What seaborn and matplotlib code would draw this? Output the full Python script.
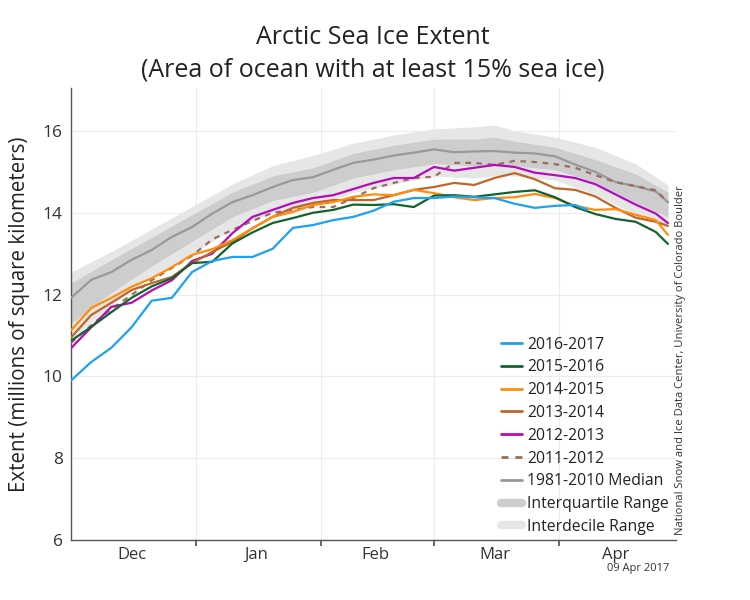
import numpy as np
import pandas as pd
import matplotlib
matplotlib.use("Agg")
import matplotlib.pyplot as plt
from matplotlib.lines import Line2D
import seaborn as sns

# days since 1 Dec
days = [0, 5, 10, 15, 20, 25, 30, 35, 40, 45, 50, 55, 60, 65, 70, 75, 80, 85, 90,
        95, 100, 105, 110, 115, 120, 125, 130, 135, 140, 145, 148]
days_1617 = days[:26] + [128]

ext_1617 = [9.9, 10.35, 10.7, 11.2, 11.85, 11.92, 12.55, 12.82, 12.92, 12.92, 13.12,
            13.63, 13.7, 13.82, 13.9, 14.05, 14.27, 14.36, 14.36, 14.4, 14.38, 14.36,
            14.22, 14.12, 14.17, 14.19, 14.07]
ext_1516 = [10.87, 11.21, 11.57, 11.92, 12.2, 12.4, 12.77, 12.8, 13.25, 13.52, 13.75,
            13.87, 14.0, 14.07, 14.2, 14.19, 14.21, 14.14, 14.42, 14.43, 14.39, 14.45,
            14.51, 14.55, 14.38, 14.14, 13.97, 13.85, 13.78, 13.53, 13.24]
ext_1415 = [11.13, 11.67, 11.92, 12.19, 12.4, 12.67, 12.97, 13.11, 13.33, 13.62, 13.9,
            14.02, 14.19, 14.26, 14.39, 14.45, 14.43, 14.56, 14.48, 14.38, 14.31, 14.36,
            14.38, 14.46, 14.36, 14.17, 14.07, 14.09, 13.95, 13.82, 13.46]
ext_1314 = [10.95, 11.5, 11.8, 12.11, 12.28, 12.43, 12.77, 13.04, 13.29, 13.62, 13.9,
            14.12, 14.24, 14.31, 14.31, 14.31, 14.43, 14.56, 14.63, 14.73, 14.68, 14.85,
            14.97, 14.82, 14.6, 14.56, 14.4, 14.12, 13.88, 13.78, 13.68]
ext_1213 = [10.69, 11.2, 11.7, 11.8, 12.1, 12.35, 12.82, 13.0, 13.5, 13.9, 14.07,
            14.24, 14.36, 14.43, 14.58, 14.73, 14.85, 14.85, 15.12, 15.03, 15.1, 15.17,
            15.12, 14.98, 14.92, 14.85, 14.7, 14.45, 14.2, 13.98, 13.75]
ext_1112 = [10.82, 11.25, 11.65, 11.99, 12.35, 12.65, 12.95, 13.35, 13.58, 13.8, 14.0,
            14.07, 14.14, 14.14, 14.36, 14.6, 14.73, 14.85, 14.88, 15.22, 15.22, 15.17,
            15.27, 15.24, 15.19, 15.1, 14.92, 14.75, 14.65, 14.55, 14.26]
median = [11.92, 12.36, 12.55, 12.85, 13.09, 13.41, 13.65, 13.98, 14.26, 14.43, 14.63,
          14.8, 14.87, 15.05, 15.22, 15.3, 15.4, 15.47, 15.55, 15.48, 15.5, 15.51,
          15.47, 15.45, 15.38, 15.18, 15.0, 14.75, 14.65, 14.52, 14.26]

band_days = [0, 10, 20, 30, 40, 50, 60, 70, 80, 90, 100, 105, 110, 120, 130, 140, 148]
idr_lo = [10.9, 11.75, 12.45, 13.0, 13.6, 14.0, 14.15, 14.5, 14.7, 14.9, 14.85, 14.9,
          14.9, 14.8, 14.45, 13.95, 13.65]
iqr_lo = [11.3, 12.05, 12.7, 13.3, 13.9, 14.3, 14.5, 14.85, 15.05, 15.2, 15.15, 15.2,
          15.15, 15.05, 14.75, 14.25, 13.9]
iqr_hi = [12.28, 12.85, 13.4, 13.95, 14.5, 14.9, 15.1, 15.45, 15.65, 15.8, 15.8, 15.85,
          15.75, 15.6, 15.3, 14.95, 14.5]
idr_hi = [12.55, 13.05, 13.6, 14.15, 14.7, 15.15, 15.4, 15.7, 15.9, 16.05, 16.1, 16.15,
          16.0, 15.85, 15.6, 15.2, 14.68]

month_edges = [31, 62, 90, 121]
month_mids = [15, 46, 75.5, 105, 135]
month_names = ['Dec', 'Jan', 'Feb', 'Mar', 'Apr']

sns.set_theme(style="white")
plt.rcParams['font.family'] = ['Open Sans', 'DejaVu Sans']

fig = plt.figure(figsize=(7.5, 6), dpi=100)
ax = fig.add_axes([0.0947, 0.1, 0.8066, 0.7533])

ax.fill_between(band_days, idr_lo, idr_hi, color='#e6e6e6', lw=0, zorder=1)
ax.fill_between(band_days, iqr_lo, iqr_hi, color='#cdcdcd', lw=0, zorder=2)
sns.lineplot(x=days, y=median, ax=ax, color='#999999', lw=1.6, zorder=3)

series = [
    (days, ext_1112, '#9c6c5e', '2011-2012', (0, (2.5, 2.5))),
    (days, ext_1213, '#b40cb8', '2012-2013', '-'),
    (days, ext_1314, '#bf6629', '2013-2014', '-'),
    (days, ext_1415, '#ff8c0a', '2014-2015', '-'),
    (days, ext_1516, '#13632e', '2015-2016', '-'),
    (days_1617, ext_1617, '#1ea1f2', '2016-2017', '-'),
]
for i, (x, y, c, lab, ls) in enumerate(series):
    sns.lineplot(x=x, y=y, ax=ax, color=c, lw=1.6, linestyle=ls, zorder=4 + i)

ax.set_xlim(0, 150)
ax.set_ylim(6, 17.05)
ax.set_yticks([6, 8, 10, 12, 14, 16])
ax.set_xticks(month_edges)
ax.set_xticklabels([])
ax.set_xticks(month_mids, minor=True)
ax.set_xticklabels(month_names, minor=True)
ax.tick_params(axis='x', which='major', length=4, color='#555555', direction='out', bottom=True)
ax.tick_params(axis='x', which='minor', length=0, labelsize=12, colors='#333333', pad=5)
ax.tick_params(axis='y', length=0, labelsize=12.5, colors='#333333', pad=6)
ax.grid(True, which='major', color='#ececec', lw=0.8)
for s in ['top', 'right']:
    ax.spines[s].set_visible(False)
for s in ['left', 'bottom']:
    ax.spines[s].set_color('#555555')
    ax.spines[s].set_linewidth(1.0)

ax.set_ylabel('Extent (millions of square kilometers)', fontsize=14.8, color='#222222', labelpad=9)
ax.set_xlabel('')

fig.text(0.497, 0.938, 'Arctic Sea Ice Extent', ha='center', va='center', fontsize=18, color='#222222')
fig.text(0.497, 0.883, '(Area of ocean with at least 15% sea ice)', ha='center', va='center',
         fontsize=18, color='#222222')
fig.text(0.892, 0.053, '09 Apr 2017', ha='right', va='center', fontsize=8, color='#333333')
fig.text(0.908, 0.399, 'National Snow and Ice Data Center, University of Colorado Boulder',
         rotation=90, ha='center', va='center', fontsize=8.1, color='#333333')

handles = [Line2D([], [], color=c, lw=2, linestyle=ls) for (_, _, c, _, ls) in series[::-1]]
labels = [lab for (_, _, _, lab, _) in series[::-1]]
handles += [Line2D([], [], color='#999999', lw=2),
            Line2D([], [], color='#cdcdcd', lw=6),
            Line2D([], [], color='#e6e6e6', lw=6)]
labels += ['1981-2010 Median', 'Interquartile Range', 'Interdecile Range']
leg = ax.legend(handles, labels, loc='upper left', bbox_to_anchor=(0.711, 0.45),
                frameon=False, fontsize=11.35, handlelength=1.33, handletextpad=0.32,
                labelspacing=0.43, borderaxespad=0, borderpad=0)
for t in leg.get_texts():
    t.set_color('#222222')

fig.savefig('out.png', dpi=100)
